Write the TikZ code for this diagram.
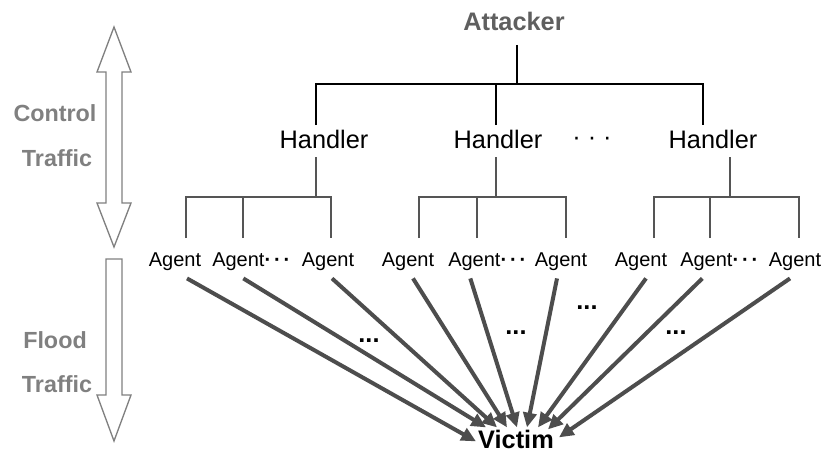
\documentclass[tikz,border=0pt]{standalone}
\usepackage{fontspec}
\setmainfont{Liberation Sans}
\usepackage{tikz}
\usetikzlibrary{arrows.meta,calc}
\definecolor{atkgray}{HTML}{5F5F5F}
\definecolor{sidegray}{HTML}{808080}
\definecolor{floodgray}{HTML}{4D4D4D}
\definecolor{treegray}{HTML}{555555}
\newcommand{\agentdots}{\textbf{·\kern2.2pt·\kern2.2pt·}}
\tikzset{%
  attacker/.style = { text = atkgray, font = \fontsize{19}{22}\selectfont\bfseries, inner sep = 0pt, anchor = base },
  handler/.style  = { font = \fontsize{19}{22}\selectfont, inner sep = 0pt, anchor = base },
  agent/.style    = { font = \fontsize{15}{18}\selectfont, inner sep = 0pt, anchor = base },
  victim/.style   = { font = \fontsize{19}{22}\selectfont\bfseries, inner sep = 0pt, anchor = base },
  side/.style     = { text = sidegray, font = \fontsize{17.5}{20}\selectfont\bfseries, inner sep = 0pt, anchor = base },
  dots/.style     = { font = \fontsize{19}{22}\selectfont\bfseries, inner sep = 0pt, anchor = base },
  cline/.style    = { line width = 1.5pt, draw = black },
  aline/.style    = { line width = 1.5pt, draw = treegray },
  flood/.style    = { -{Triangle[length=11pt,width=10pt]}, line width = 3pt, draw = floodgray },
  bigarrow/.style = { draw = sidegray, line width = 1pt, fill = white, line join = miter }
}

\begin{document}
\begin{tikzpicture}[x=0.75pt, y=-0.75pt]
\useasboundingbox (0,0) rectangle (827,453);

% traffic direction arrows
\draw[bigarrow] (114,27) -- (131,72) -- (122,72) -- (122,203) -- (131,203) -- (114,247)
                -- (97,203) -- (106,203) -- (106,72) -- (97,72) -- cycle;
\draw[bigarrow] (106,259) -- (122,259) -- (122,395) -- (131,395) -- (114,441)
                -- (97,395) -- (106,395) -- cycle;
\node(C1) [side] at (55,121)  {Control};
\node(C2) [side] at (57,166)  {Traffic};
\node(F1) [side] at (55,348)  {Flood};
\node(F2) [side] at (57,392)  {Traffic};

% attacker and handlers
\node(A)  [attacker] at (514,31)  {Attacker};
\node(H1) [handler]  at (324,148) {Handler};
\node(H2) [handler]  at (498,148) {Handler};
\node(H3) [handler]  at (713,148) {Handler};
\node(HD) [handler]  at (592,145) {· · ·};

\coordinate (ta)  at (517,45);
\coordinate (bus) at (517,84);
\coordinate (h1-n) at (316,125);
\coordinate (h2-n) at (496,125);
\coordinate (h3-n) at (703,125);
\draw[cline] (ta) -- (bus);
\draw[cline] (h1-n) |- (bus) -| (h3-n);
\draw[cline] (h2-n) -- (h2-n |- bus);

% agents
\node(ag11) [agent] at (175,266) {Agent};
\node(ag12) [agent, anchor = base west] at (212,266) {Agent\agentdots};
\node(ag13) [agent] at (328,266) {Agent};
\node(ag21) [agent] at (408,266) {Agent};
\node(ag22) [agent, anchor = base west] at (448,266) {Agent\agentdots};
\node(ag23) [agent] at (561,266) {Agent};
\node(ag31) [agent] at (641,266) {Agent};
\node(ag32) [agent, anchor = base west] at (680,266) {Agent\agentdots};
\node(ag33) [agent] at (795,266) {Agent};

\coordinate (h1-s) at (316,157);
\coordinate (h2-s) at (496,157);
\coordinate (h3-s) at (730,157);
\coordinate (g1) at (316,197);
\coordinate (g2) at (496,197);
\coordinate (g3) at (730,197);
\coordinate (d11) at (186,238);
\coordinate (d12) at (243,238);
\coordinate (d13) at (331,238);
\coordinate (d21) at (419,238);
\coordinate (d22) at (477,238);
\coordinate (d23) at (566,238);
\coordinate (d31) at (654,238);
\coordinate (d32) at (710,238);
\coordinate (d33) at (799,238);
\foreach \g in {1,2,3} {
  \draw[aline] (h\g-s) -- (g\g);
  \draw[aline] (d\g1) |- (g\g) -| (d\g3);
  \draw[aline] (d\g2) -- (d\g2 |- g\g);
}

% victim and flood
\node(V) [victim] at (516,448) {Victim};
\foreach \a/\dx/\dy/\ex/\ey in {ag11/12/8/-40/12, ag12/-8/8/-30/-2, ag13/4/8/-19/-2,
                                ag21/5/8/-9/-2,   ag22/-17/8/1/-2,  ag23/-4/8/11/-2,
                                ag31/5/8/22/-2,   ag32/-17/8/32/0,  ag33/-5/8/43/8}
  \draw[flood] ([shift={(\dx,\dy)}]\a.south) -- ([shift={(\ex,\ey)}]V.north);

\node(D1) [dots] at (369,342) {...};
\node(D2) [dots] at (516,334) {...};
\node(D3) [dots] at (587,309) {...};
\node(D4) [dots] at (676,334) {...};
\end{tikzpicture}
\end{document}
